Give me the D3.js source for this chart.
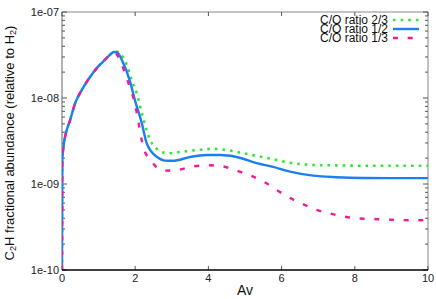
<!DOCTYPE html>
<html>
<head>
<meta charset="utf-8">
<script src="https://cdn.jsdelivr.net/npm/d3@7"></script>
<style>
  body { margin: 0; background: #fff; }
  text { font-family: "Liberation Sans", Arial, sans-serif; }
</style>
</head>
<body>
<script>
// C2H abundance vs Av, three C/O ratios
const avGreen = [0, 0.01, 0.04, 0.1, 0.22, 0.36, 0.54, 0.71, 0.98, 1.17, 1.3, 1.42, 1.52, 1.6, 1.77, 1.9, 2.04, 2.18, 2.31, 2.4, 2.54, 2.68, 2.9, 3.31, 3.68, 4.13, 4.5, 4.95, 5.32, 5.77, 6.14, 6.5, 6.91, 7.32, 8.22, 10];
const c2hGreen = [1e-10, 1.9e-9, 2.7e-9, 3.8e-9, 5.5e-9, 8.7e-9, 1.24e-8, 1.62e-8, 2.3e-8, 2.77e-8, 3.15e-8, 3.42e-8, 3.45e-8, 3.25e-8, 2.42e-8, 1.62e-8, 1.14e-8, 6.7e-9, 4.25e-9, 3.3e-9, 2.7e-9, 2.4e-9, 2.28e-9, 2.38e-9, 2.48e-9, 2.57e-9, 2.48e-9, 2.28e-9, 2.12e-9, 1.94e-9, 1.79e-9, 1.71e-9, 1.66e-9, 1.65e-9, 1.63e-9, 1.63e-9];

const avBlue = [0, 0.01, 0.04, 0.1, 0.22, 0.36, 0.54, 0.71, 0.98, 1.17, 1.3, 1.42, 1.5, 1.56, 1.63, 1.86, 1.99, 2.18, 2.31, 2.45, 2.59, 2.81, 3.03, 3.5, 3.95, 4.32, 4.77, 5.32, 5.77, 6.23, 6.86, 7.5, 8.22, 9, 10];
const c2hBlue = [1e-10, 1.9e-9, 2.7e-9, 3.8e-9, 5.5e-9, 8.7e-9, 1.24e-8, 1.62e-8, 2.3e-8, 2.77e-8, 3.15e-8, 3.42e-8, 3.4e-8, 3.2e-8, 2.8e-8, 1.55e-8, 9.5e-9, 5.1e-9, 3.0e-9, 2.35e-9, 2.07e-9, 1.87e-9, 1.86e-9, 2.06e-9, 2.17e-9, 2.17e-9, 2.06e-9, 1.75e-9, 1.58e-9, 1.39e-9, 1.25e-9, 1.2e-9, 1.175e-9, 1.17e-9, 1.17e-9];

const avPink = [0, 0.01, 0.04, 0.1, 0.22, 0.36, 0.54, 0.71, 0.98, 1.17, 1.3, 1.4, 1.47, 1.55, 1.72, 1.86, 1.99, 2.08, 2.22, 2.45, 2.76, 3.17, 3.58, 3.99, 4.4, 4.77, 5.18, 5.55, 5.87, 6.17, 6.58, 6.96, 7.27, 7.67, 8.08, 8.49, 8.9, 9.3, 10];
const c2hPink = [1e-10, 1.9e-9, 2.7e-9, 3.8e-9, 5.5e-9, 8.7e-9, 1.24e-8, 1.62e-8, 2.3e-8, 2.77e-8, 3.15e-8, 3.36e-8, 3.3e-8, 2.95e-8, 1.95e-8, 1.31e-8, 8.7e-9, 5.5e-9, 2.7e-9, 1.82e-9, 1.43e-9, 1.46e-9, 1.6e-9, 1.65e-9, 1.6e-9, 1.43e-9, 1.24e-9, 1.04e-9, 8.5e-10, 7.1e-10, 5.85e-10, 4.99e-10, 4.6e-10, 4.21e-10, 3.98e-10, 3.92e-10, 3.86e-10, 3.8e-10, 3.78e-10];

const seriesNames = ["C/O ratio 2/3", "C/O ratio 1/2", "C/O ratio 1/3"];
const xTicks = [0, 2, 4, 6, 8, 10];
const yTicks = [1e-10, 1e-9, 1e-8, 1e-7];
const yTickLabels = ["1e-10", "1e-09", "1e-08", "1e-07"];

const width = 436, height = 299;
const margin = {top: 12, right: 8, bottom: 29, left: 62};

const svg = d3.select("body").append("svg")
  .attr("width", width)
  .attr("height", height);

const x = d3.scaleLinear().domain([0, 10]).range([margin.left, width - margin.right]);
const y = d3.scaleLog().domain([1e-10, 1e-7]).range([height - margin.bottom, margin.top]);

// minor log ticks
const minor = [];
for (let e = -10; e < -7; e++) for (let m = 2; m <= 9; m++) minor.push(m * Math.pow(10, e));

const x0 = x(0), x1 = x(10), y0 = y(1e-10), y1 = y(1e-7);

// frame
svg.append("line").attr("x1", x0).attr("x2", x1).attr("y1", y1).attr("y2", y1).attr("stroke", "#888");
svg.append("line").attr("x1", x1).attr("x2", x1).attr("y1", y1).attr("y2", y0).attr("stroke", "#888");
svg.append("line").attr("x1", x0).attr("x2", x0).attr("y1", y1).attr("y2", y0).attr("stroke", "#666");

// left / right ticks
const yt = svg.append("g").attr("stroke", "#555");
yTicks.forEach(v => {
  yt.append("line").attr("x1", x0).attr("x2", x0 + 5).attr("y1", y(v)).attr("y2", y(v));
  yt.append("line").attr("x1", x1).attr("x2", x1 - 5).attr("y1", y(v)).attr("y2", y(v));
});
minor.forEach(v => {
  yt.append("line").attr("x1", x0).attr("x2", x0 + 3).attr("y1", y(v)).attr("y2", y(v));
  yt.append("line").attr("x1", x1).attr("x2", x1 - 3).attr("y1", y(v)).attr("y2", y(v));
});
svg.append("g").selectAll("text").data(yTicks).join("text")
  .attr("x", x0 - 3).attr("y", d => y(d) + 4)
  .attr("text-anchor", "end").attr("font-size", 11).attr("fill", "#222")
  .text((d, i) => yTickLabels[i]);

// top / bottom ticks
const xt = svg.append("g").attr("stroke", "#555");
xTicks.forEach(v => {
  xt.append("line").attr("x1", x(v)).attr("x2", x(v)).attr("y1", y1).attr("y2", y1 + 4);
  xt.append("line").attr("x1", x(v)).attr("x2", x(v)).attr("y1", y0).attr("y2", y0 - 4);
});
svg.append("g").selectAll("text").data(xTicks).join("text")
  .attr("x", d => x(d)).attr("y", y0 + 12)
  .attr("text-anchor", "middle").attr("font-size", 11).attr("fill", "#222")
  .text(d => d);

// curves
svg.append("clipPath").attr("id", "clip").append("rect")
  .attr("x", x0).attr("y", y1).attr("width", x1 - x0).attr("height", y0 - y1);

const line = d3.line()
  .x(d => x(d[0]))
  .y(d => y(d[1]))
  .curve(d3.curveMonotoneX);

const series = [
  {av: avGreen, val: c2hGreen, color: "#2ee82e", w: 2.6, dash: "2.6,5"},
  {av: avBlue, val: c2hBlue, color: "#1a80f0", w: 2.4, dash: null},
  {av: avPink, val: c2hPink, color: "#ee1c97", w: 2.4, dash: "5,9.7"}
];

const plot = svg.append("g").attr("clip-path", "url(#clip)");
series.forEach(s => {
  const pts = s.av.map((a, i) => [a, s.val[i]]);
  plot.append("path")
    .attr("d", line(pts))
    .attr("fill", "none")
    .attr("stroke", s.color)
    .attr("stroke-width", s.w)
    .attr("stroke-dasharray", s.dash);
});

// bottom axis line drawn over curves
svg.append("line").attr("x1", x0).attr("x2", x1).attr("y1", y0).attr("y2", y0)
  .attr("stroke", "#000").attr("stroke-width", 1.5);

// legend
const leg = svg.append("g");
series.forEach((s, i) => {
  const ly = 20 + i * 9;
  leg.append("text").attr("x", 388).attr("y", ly + 4)
    .attr("text-anchor", "end").attr("font-size", 12).attr("fill", "#111")
    .text(seriesNames[i]);
  leg.append("line").attr("x1", 393).attr("x2", 419).attr("y1", ly).attr("y2", ly)
    .attr("stroke", s.color).attr("stroke-width", s.w)
    .attr("stroke-dasharray", s.dash);
});

// axis titles
svg.append("text").attr("x", x(5)).attr("y", 295)
  .attr("text-anchor", "middle").attr("font-size", 14).attr("fill", "#111")
  .text("Av");

const yl = svg.append("text")
  .attr("transform", `translate(14,${(y0 + y1) / 2 + 2}) rotate(-90)`)
  .attr("text-anchor", "middle").attr("font-size", 13).attr("fill", "#111");
yl.append("tspan").text("C");
yl.append("tspan").attr("font-size", 9).attr("dy", 2).text("2");
yl.append("tspan").attr("dy", -2).text("H fractional abundance (relative to H");
yl.append("tspan").attr("font-size", 9).attr("dy", 2).text("2");
yl.append("tspan").attr("dy", -2).text(")");
</script>
</body>
</html>
